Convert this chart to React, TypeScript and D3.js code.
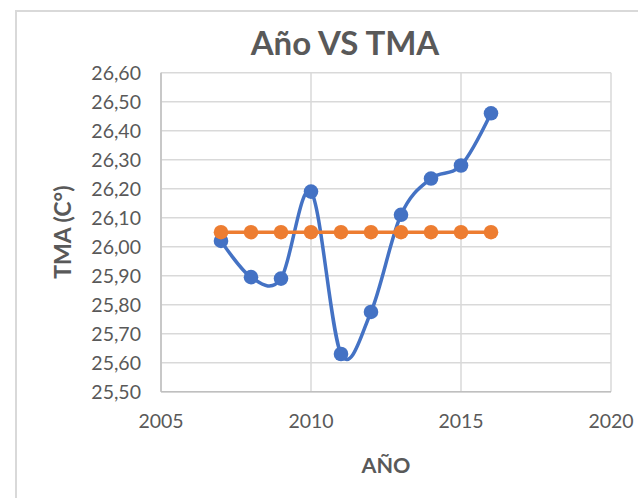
import * as d3 from 'd3';

const years = [2007, 2008, 2009, 2010, 2011, 2012, 2013, 2014, 2015, 2016];
const tmaValues = [26.02, 25.895, 25.89, 26.19, 25.63, 25.775, 26.11, 26.235, 26.28, 26.46];
const meanValues = [26.05, 26.05, 26.05, 26.05, 26.05, 26.05, 26.05, 26.05, 26.05, 26.05];
const xTicks = [2005, 2010, 2015, 2020];
const yTicks = [25.5, 25.6, 25.7, 25.8, 25.9, 26.0, 26.1, 26.2, 26.3, 26.4, 26.5, 26.6];

const width = 638;
const height = 498;
const plot = { left: 161, right: 611, top: 72.7, bottom: 391.7 };
const textColor = '#595959';
const font = 'Lato, "Open Sans", sans-serif';

const locale = d3.formatLocale({ decimal: ',', thousands: '.', grouping: [3], currency: ['', ''] });
const fmt = locale.format('.2f');

const App = () => {
  const x = d3.scaleLinear().domain([2005, 2020]).range([plot.left, plot.right]);
  const y = d3.scaleLinear().domain([25.5, 26.6]).range([plot.bottom, plot.top]);

  const line = d3.line<number>()
    .x((_, i) => x(years[i]))
    .y(d => y(d))
    .curve(d3.curveCatmullRom.alpha(0));

  const series = [
    { name: 'TMA', values: tmaValues, color: '#4472C4' },
    { name: 'Media', values: meanValues, color: '#ED7D31' },
  ];

  return (
    <svg width={width} height={height} style={{ position: 'absolute', left: 0, top: 0, background: '#fff' }}
      fontFamily={font}>
      {/* chart area border */}
      <rect x={16} y={11} width={700} height={600} fill="#fff" stroke="#d9d9d9" strokeWidth={2} />

      <text x={345} y={55} textAnchor="middle" fontSize={33} fontWeight="bold" fill={textColor}>Año VS TMA</text>

      {/* gridlines */}
      {yTicks.map(t => (
        <line key={'h' + t} x1={plot.left} x2={plot.right} y1={y(t)} y2={y(t)} stroke="#d9d9d9" strokeWidth={1.5} />
      ))}
      {xTicks.map(t => (
        <line key={'v' + t} x1={x(t)} x2={x(t)} y1={plot.top} y2={plot.bottom} stroke="#d9d9d9" strokeWidth={1.5} />
      ))}
      <line x1={plot.left} x2={plot.right} y1={plot.bottom} y2={plot.bottom} stroke="#bfbfbf" strokeWidth={1.5} />
      <line x1={plot.left} x2={plot.left} y1={plot.top} y2={plot.bottom} stroke="#bfbfbf" strokeWidth={1.5} />

      {/* tick labels */}
      {yTicks.map(t => (
        <text key={'yl' + t} x={141} y={y(t)} dy="0.36em" textAnchor="end" fontSize={19.5} fill={textColor}>{fmt(t)}</text>
      ))}
      {xTicks.map(t => (
        <text key={'xl' + t} x={x(t)} y={428} textAnchor="middle" fontSize={19.5} fill={textColor}>{t}</text>
      ))}

      {/* axis titles */}
      <text x={(plot.left + plot.right) / 2} y={473} textAnchor="middle" fontSize={21.5} fontWeight="bold" fill={textColor}>AÑO</text>
      <text transform={`translate(71,${(plot.top + plot.bottom) / 2}) rotate(-90)`} textAnchor="middle" fontSize={23}
        fontWeight="bold" fill={textColor}>TMA (C°)</text>

      {/* series */}
      {series.map(s => (
        <g key={s.name}>
          <path d={line(s.values) ?? ''} fill="none" stroke={s.color} strokeWidth={3.5} strokeLinecap="round" />
          {s.values.map((v, i) => (
            <circle key={i} cx={x(years[i])} cy={y(v)} r={7.3} fill={s.color} />
          ))}
        </g>
      ))}
    </svg>
  );
};

export default App;
